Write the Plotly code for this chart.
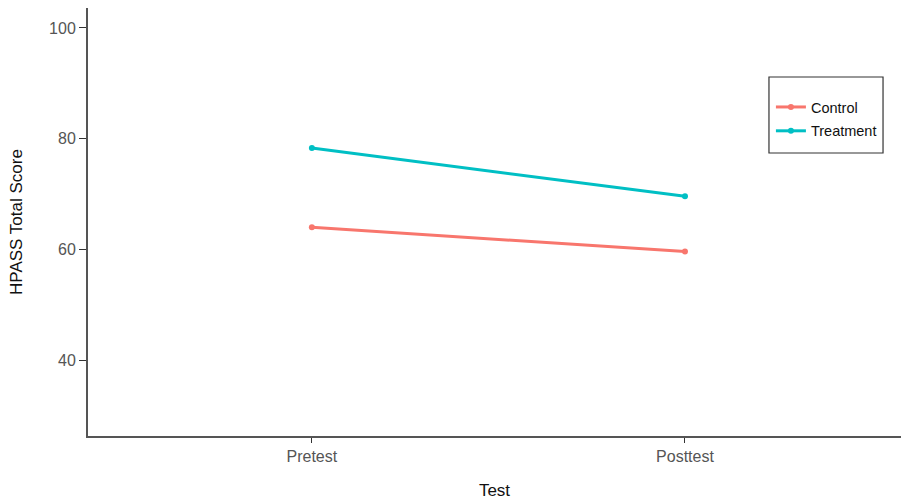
import plotly.graph_objects as go

tests = ["Pretest", "Posttest"]
control = [64.0, 59.6]
treatment = [78.3, 69.6]
y_ticks = [40, 60, 80, 100]

FONT = "Liberation Sans, Arial, sans-serif"

fig = go.Figure()
fig.add_trace(go.Scatter(x=tests, y=control, name="Control", mode="lines+markers", legendgroup="c",
                         line=dict(color="#F8766D", width=3), marker=dict(size=6, color="#F8766D")))
fig.add_trace(go.Scatter(x=tests, y=treatment, name="Treatment", mode="lines+markers", legendgroup="t",
                         line=dict(color="#00BFC4", width=3), marker=dict(size=6, color="#00BFC4")))

# legend frame (decoration)
fig.add_shape(type="rect", xref="paper", yref="paper",
              x0=0.8376, x1=0.9779, y0=0.6612, y1=0.8388,
              line=dict(color="#333333", width=1.2), fillcolor="rgba(0,0,0,0)", layer="above")

fig.update_layout(
    width=901, height=500,
    margin=dict(l=88, r=0, t=8, b=64, autoexpand=False),
    plot_bgcolor="white", paper_bgcolor="white",
    font=dict(family=FONT, size=15, color="#4d4d4d"),
    showlegend=True,
    legend=dict(x=0.840, y=0.806, xanchor="left", yanchor="top",
                borderwidth=0, bgcolor="rgba(0,0,0,0)",
                font=dict(size=14.5, color="#111111"),
                traceorder="grouped", itemwidth=30, tracegroupgap=2),
    xaxis=dict(
        type="category", range=[-0.6, 1.579], automargin=False,
        showline=True, linecolor="#555555", linewidth=2,
        ticks="outside", ticklen=5, tickcolor="#333333", tickwidth=1,
        showgrid=False, zeroline=False,
        title=dict(text="Test", font=dict(size=17, color="#111111"), standoff=21),
        tickfont=dict(size=16, color="#555555"),
    ),
    yaxis=dict(
        range=[26.3, 103.6], tickvals=y_ticks, automargin=False,
        showline=True, linecolor="#555555", linewidth=2,
        ticks="outside", ticklen=7, tickcolor="#333333", tickwidth=1,
        showgrid=False, zeroline=False,
        title=dict(text="HPASS Total Score", font=dict(size=17, color="#111111"), standoff=22),
        tickfont=dict(size=16, color="#555555"),
    ),
)

fig.write_html("out.html", config={"displayModeBar": False},
               post_script="document.body.style.margin='0';document.body.style.overflow='hidden';")
